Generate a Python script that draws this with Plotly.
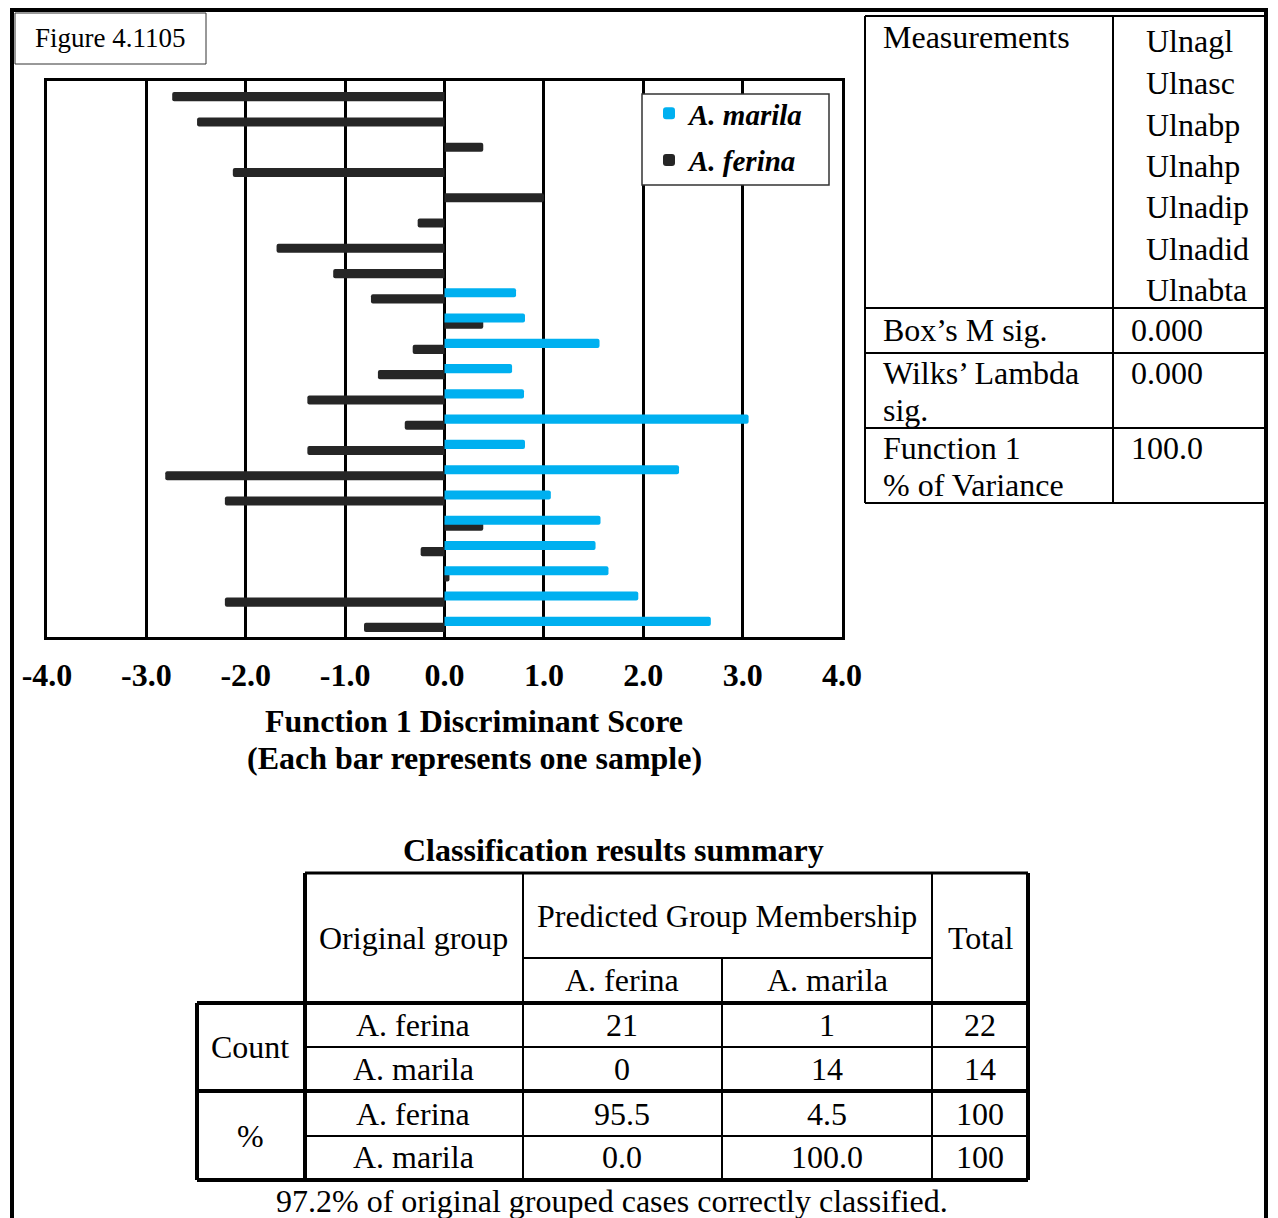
import plotly.graph_objects as go

W, H = 1278, 1218
OFF = 8  # page body margin in the browser

# ---------------- data ----------------
samples = list(range(1, 23))
ferina_scores = [-2.74, -2.49, 0.39, -2.13, 1.00, -0.27, -1.69, -1.12, -0.74, 0.39, -0.32,
                 -0.67, -1.38, -0.40, -1.38, -2.81, -2.21, 0.39, -0.24, 0.05, -2.21, -0.81]
marila_samples = list(range(9, 23))
marila_scores = [0.72, 0.81, 1.56, 0.68, 0.80, 3.06, 0.81, 2.36, 1.07, 1.57, 1.52, 1.65, 1.95, 2.68]
tick_vals = [-4, -3, -2, -1, 0, 1, 2, 3, 4]
tick_labels = ["-4.0", "-3.0", "-2.0", "-1.0", "0.0", "1.0", "2.0", "3.0", "4.0"]
series_names = ["A. ferina", "A. marila"]
series_colors = ["#262626", "#00B0F0"]

figure_label = "Figure 4.1105"
axis_title_lines = ["Function 1 Discriminant Score", "(Each bar represents one sample)"]

measurements = ["Ulnagl", "Ulnasc", "Ulnabp", "Ulnahp", "Ulnadip", "Ulnadid", "Ulnabta"]
stats_labels = [["Box’s M sig."], ["Wilks’ Lambda", "sig."], ["Function 1", "% of Variance"]]
stats_values = ["0.000", "0.000", "100.0"]

class_title = "Classification results summary"
pred_groups = ["A. ferina", "A. marila"]
row_blocks = ["Count", "%"]
orig_groups = ["A. ferina", "A. marila"]
count_vals = [["21", "1", "22"], ["0", "14", "14"]]
pct_vals = [["95.5", "4.5", "100"], ["0.0", "100.0", "100"]]
footer = "97.2% of original grouped cases correctly classified."

# ---------------- helpers ----------------
SERIF = "Liberation Serif, Times New Roman, serif"
FS = 32
RIGHT = 1266  # right page edge that stays visible in the window


def px(x):
    return (x - OFF) / W


def py(y):
    return 1 - (y - OFF) / H


annotations = []
shapes = []


def text(x, y, s, size=FS, anchor="left", bold=False, italic=False):
    annotations.append(dict(
        x=px(x), y=py(y), xref="paper", yref="paper", text=s, showarrow=False,
        xanchor=anchor, yanchor="middle",
        font=dict(family=SERIF, size=size, color="black",
                  weight="bold" if bold else "normal",
                  style="italic" if italic else "normal")))


def line(x0, y0, x1, y1, w=2, color="black"):
    shapes.append(dict(type="line", xref="paper", yref="paper",
                       x0=px(x0), y0=py(y0), x1=px(x1), y1=py(y1),
                       line=dict(color=color, width=w)))


# ---------------- figure ----------------
fig = go.Figure()
fig.add_trace(go.Bar(
    name=series_names[0], x=ferina_scores, y=samples, orientation="h", legendgroup="f", legendrank=2,
    width=0.36, offset=-0.06, marker=dict(color=series_colors[0], cornerradius=2, line=dict(width=0))))
fig.add_trace(go.Bar(
    name=series_names[1], x=marila_scores, y=marila_samples, orientation="h", legendgroup="m", legendrank=1,
    width=0.36, offset=-0.30, marker=dict(color=series_colors[1], cornerradius=2, line=dict(width=0))))

# page border
line(12, 8, 12, H + OFF, w=4)
line(10, 10, RIGHT + 2, 10, w=4)
line(RIGHT, 8, RIGHT, H + OFF, w=4)

# figure label box
shapes.append(dict(type="rect", xref="paper", yref="paper", x0=px(15), y0=py(13), x1=px(206), y1=py(64),
                   line=dict(color="#333", width=1), fillcolor="white"))
text(110, 38, figure_label, size=27, anchor="center")

# legend frame (white box over the grid)
shapes.append(dict(type="rect", xref="paper", yref="paper", x0=px(642), y0=py(94), x1=px(829), y1=py(185),
                   line=dict(color="#333", width=1.5), fillcolor="white", layer="above"))

# axis title
text(474, 721, axis_title_lines[0], anchor="center", bold=True)
text(474, 758, axis_title_lines[1], anchor="center", bold=True)

# right table
rx = [865, 1113, RIGHT]
ry = [16, 308, 353, 428, 503]
for yy in ry:
    line(rx[0], yy, rx[2], yy, w=2)
for xx in rx:
    line(xx, ry[0], xx, ry[-1], w=2)
text(881, 37, "Measurements")
meas_y = [41, 83, 125, 166, 207, 249, 290]
for m, yy in zip(measurements, meas_y):
    text(1144, yy, m)
stat_y = [[330], [373, 410], [448, 485]]
for labs, ys, v in zip(stats_labels, stat_y, stats_values):
    for lab, yy in zip(labs, ys):
        text(881, yy, lab)
    text(1129, ys[0], v)

# classification table
text(613, 850, class_title, anchor="center", bold=True)
cx = [197, 305, 523, 722, 932, 1028]
cy = [873, 958, 1003, 1047, 1091, 1136, 1180]
line(cx[1], cy[0], cx[5], cy[0], w=3)
line(cx[2], cy[1], cx[4], cy[1], w=2)
line(cx[0], cy[2], cx[5], cy[2], w=4)
line(cx[1], cy[3], cx[5], cy[3], w=2)
line(cx[0], cy[4], cx[5], cy[4], w=4)
line(cx[1], cy[5], cx[5], cy[5], w=2)
line(cx[0], cy[6], cx[5], cy[6], w=4)
line(cx[0], cy[2], cx[0], cy[6], w=4)
line(cx[1], cy[0], cx[1], cy[6], w=4)
line(cx[2], cy[0], cx[2], cy[6], w=2)
line(cx[3], cy[1], cx[3], cy[6], w=2)
line(cx[4], cy[0], cx[4], cy[6], w=2)
line(cx[5], cy[0], cx[5], cy[6], w=4)

text(413, 938, "Original group", anchor="center")
text(727, 916, "Predicted Group Membership", anchor="center")
text(980, 938, "Total", anchor="center")
text(622, 980, pred_groups[0], anchor="center")
text(827, 980, pred_groups[1], anchor="center")
col_centers = [622, 827, 980]
row_centers = [1025, 1069, 1114, 1157]
text(250, 1047, row_blocks[0], anchor="center")
text(250, 1136, row_blocks[1], anchor="center")
for i, vals in enumerate(count_vals + pct_vals):
    text(413, row_centers[i], orig_groups[i % 2], anchor="center")
    for v, xx in zip(vals, col_centers):
        text(xx, row_centers[i], v, anchor="center")
text(612, 1201, footer, anchor="center")

fig.update_layout(
    template="none",
    width=W, height=H, margin=dict(l=0, r=0, t=0, b=0, pad=0), autosize=False,
    paper_bgcolor="white", plot_bgcolor="white",
    barmode="overlay", showlegend=True,
    legend=dict(x=px(649), y=py(88), xanchor="left", yanchor="top",
                traceorder="grouped", tracegroupgap=6,
                bgcolor="rgba(0,0,0,0)", borderwidth=0,
                font=dict(family=SERIF, size=29, color="black", weight="bold", style="italic"),
                itemwidth=30),
    xaxis=dict(domain=[px(47), px(842)], range=[-4, 4], tickvals=tick_vals, ticktext=tick_labels,
               automargin=False,
               showgrid=True, gridcolor="black", gridwidth=3,
               zeroline=True, zerolinecolor="black", zerolinewidth=3,
               showline=True, mirror=True, linecolor="black", linewidth=3,
               ticks="", ticklabelstandoff=8,
               tickfont=dict(family=SERIF, size=FS, color="black", weight="bold")),
    yaxis=dict(domain=[py(637), py(81)], range=[22.5, 0.5], showticklabels=False,
               automargin=False,
               showgrid=False, zeroline=False,
               showline=True, mirror=True, linecolor="black", linewidth=3, ticks=""),
    annotations=annotations, shapes=shapes,
)

fig.write_html("out.html")
